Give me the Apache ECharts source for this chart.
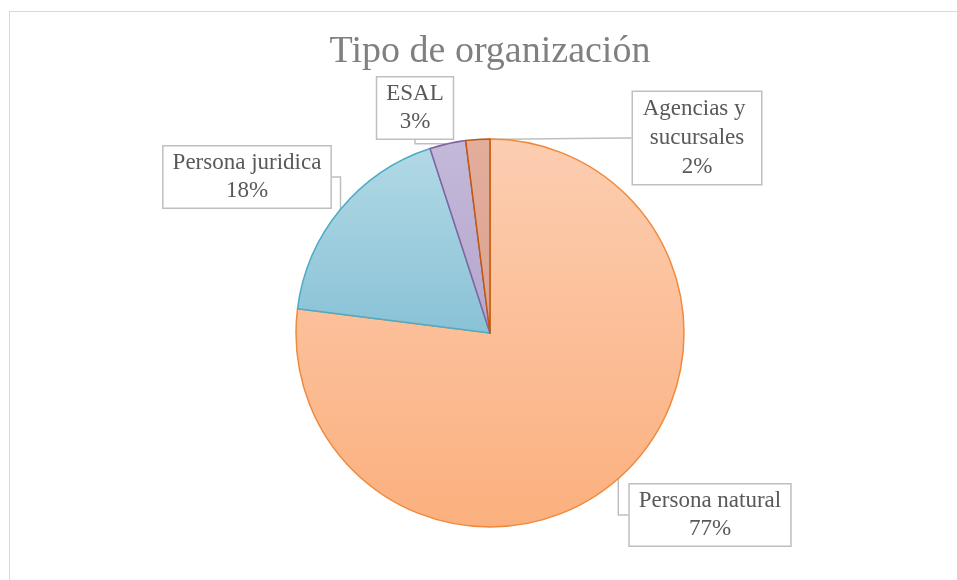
<!DOCTYPE html>
<html>
<head>
<meta charset="utf-8">
<script src="https://cdn.jsdelivr.net/npm/echarts@6/dist/echarts.min.js"></script>
<style>
html,body{margin:0;padding:0;background:#fff;}
#frame{position:absolute;left:9px;top:11px;width:960px;height:580px;border-left:1px solid #d9d9d9;border-top:1px solid #d9d9d9;}
#chart{position:absolute;left:0;top:0;width:957px;height:580px;}
</style>
</head>
<body>
<div id="frame"></div>
<div id="chart"></div>
<script>
// datos del gráfico
const categorias = ['Persona natural', 'Persona juridica', 'ESAL', 'Agencias y sucursales'];
const valores = [77, 18, 3, 2];

// estilos por porción (relleno degradado + borde)
const rellenos = [
  ['#fccdb1', '#fbb07e'],
  ['#b2d9e5', '#89c2d6'],
  ['#c4b9d9', '#b6a6cd'],
  ['#e3ad9c', '#dca391']
];
const bordes = ['#f08a3c', '#4bacc6', '#8064a2', '#c0590e'];
// centro de cada etiqueta (cajas tipo "callout")
const posEtiquetas = [[710, 515], [247, 177], [415, 108], [697, 138]];

const myChart = echarts.init(document.getElementById('chart'));

const datos = categorias.map((c, i) => ({
  name: c,
  value: valores[i],
  itemStyle: {
    color: new echarts.graphic.LinearGradient(0, 0, 0, 1, [
      { offset: 0, color: rellenos[i][0] },
      { offset: 1, color: rellenos[i][1] }
    ]),
    borderColor: bordes[i],
    borderWidth: 1.5
  },
  label: i === 3 ? { width: 110, overflow: 'break', lineHeight: 29 } : {}
}));

const option = {
  animation: false,
  title: {
    text: 'Tipo de organización',
    top: 28,
    left: 485,
    textAlign: 'center',
    textStyle: {
      fontFamily: 'Liberation Serif',
      fontWeight: 'normal',
      fontSize: 38,
      color: '#808080'
    }
  },
  series: [
    {
      type: 'pie',
      center: [490, 333],
      radius: 194,
      startAngle: 90,
      clockwise: true,
      percentPrecision: 0,
      data: datos,
      label: {
        show: true,
        formatter: '{b}\n{d}%',
        fontFamily: 'Liberation Serif',
        fontSize: 23,
        lineHeight: 28,
        color: '#595959',
        align: 'center',
        backgroundColor: '#fff',
        borderColor: '#bfbfbf',
        borderWidth: 1.5,
        padding: [3, 9, 2, 9]
      },
      labelLine: {
        show: true,
        length: 10,
        length2: 10,
        lineStyle: { color: '#bfbfbf', width: 1.5 }
      },
      labelLayout: function (params) {
        const p = posEtiquetas[params.dataIndex];
        return { x: p[0], y: p[1], align: 'center', verticalAlign: 'middle' };
      },
      emphasis: { disabled: true }
    }
  ]
};
myChart.setOption(option);
</script>
</body>
</html>
